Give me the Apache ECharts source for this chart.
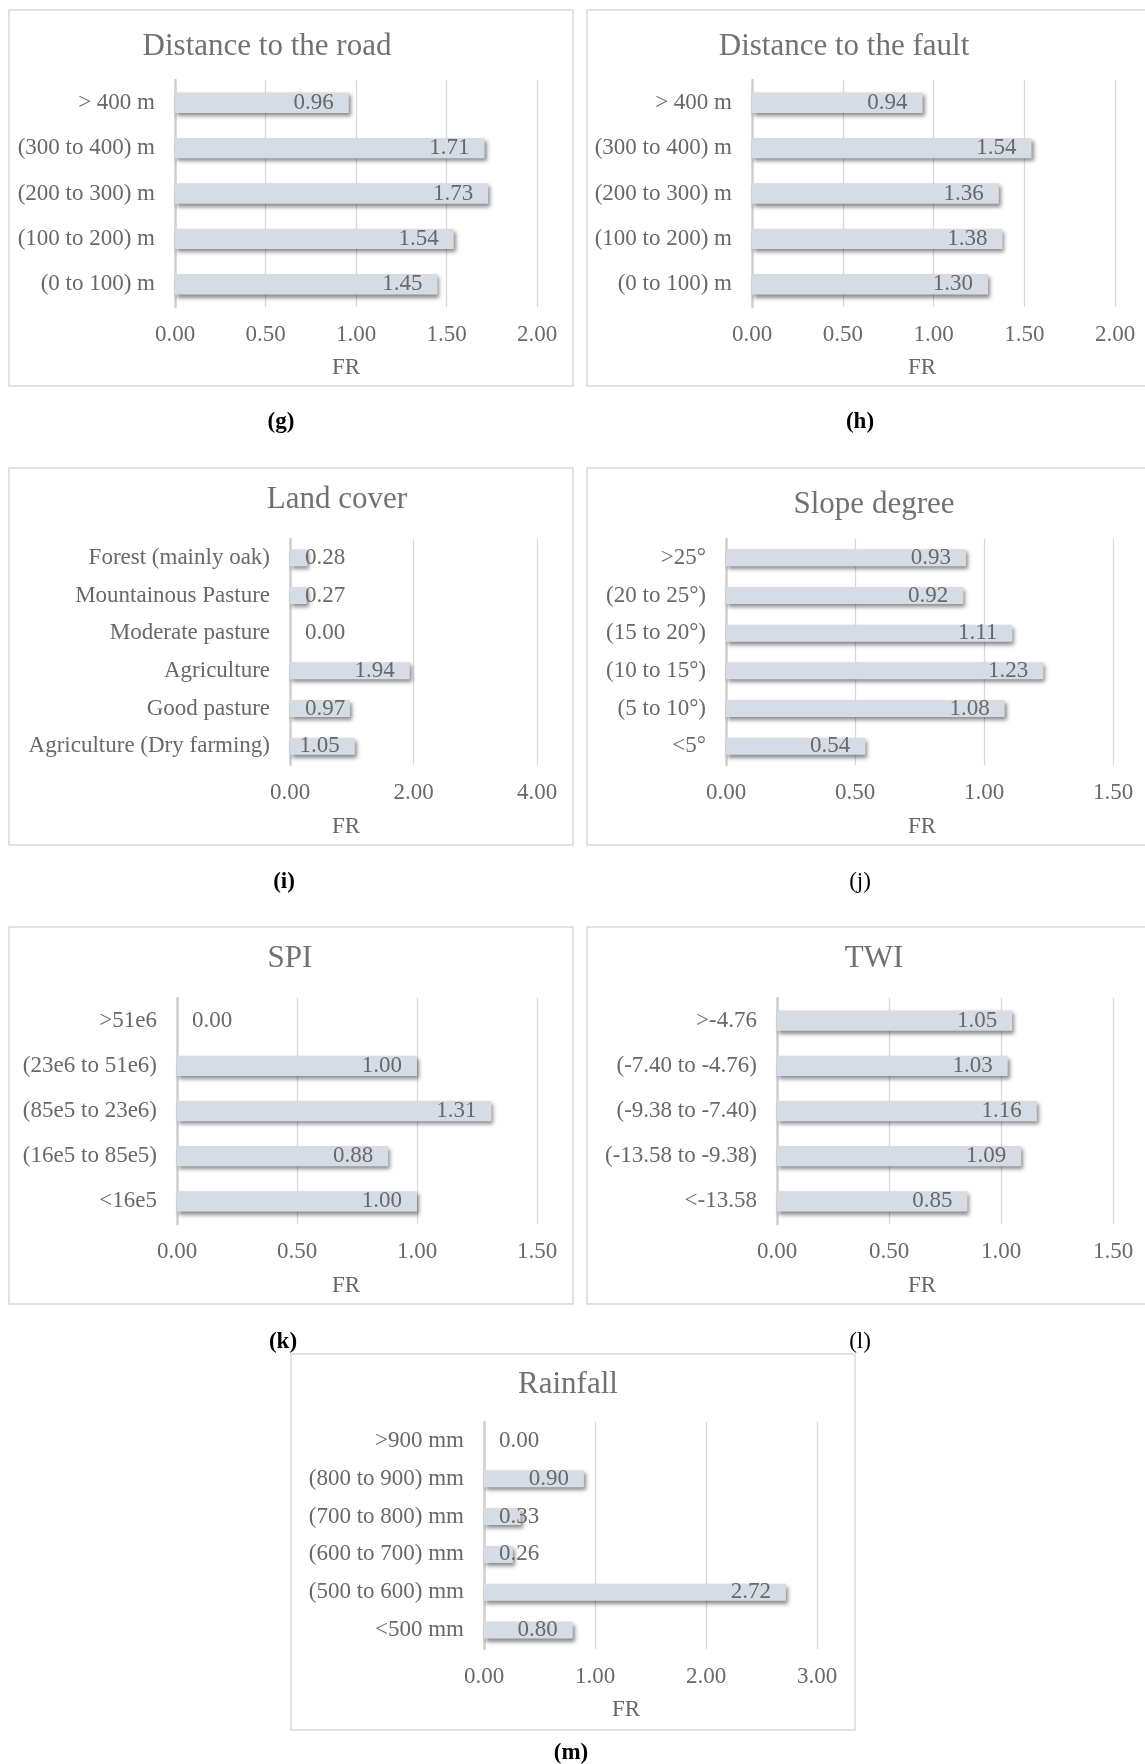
<!DOCTYPE html>
<html>
<head>
<meta charset="utf-8">
<script src="https://cdn.jsdelivr.net/npm/echarts@6/dist/echarts.min.js"></script>
<style>
html,body{margin:0;padding:0;background:#fff;}
#c{width:1145px;height:1764px;}
</style>
</head>
<body>
<div id="c"></div>
<script>
// ---- data ----
const roadCategories = ['> 400 m', '(300 to 400) m', '(200 to 300) m', '(100 to 200) m', '(0 to 100) m'];
const roadFR = [0.96, 1.71, 1.73, 1.54, 1.45];
const roadTicks = [0, 0.5, 1.0, 1.5, 2.0];

const faultCategories = ['> 400 m', '(300 to 400) m', '(200 to 300) m', '(100 to 200) m', '(0 to 100) m'];
const faultFR = [0.94, 1.54, 1.36, 1.38, 1.30];
const faultTicks = [0, 0.5, 1.0, 1.5, 2.0];

const landCategories = ['Forest (mainly oak)', 'Mountainous Pasture', 'Moderate pasture', 'Agriculture', 'Good pasture', 'Agriculture (Dry farming)'];
const landFR = [0.28, 0.27, 0.00, 1.94, 0.97, 1.05];
const landTicks = [0, 2.0, 4.0];

const slopeCategories = ['>25°', '(20 to 25°)', '(15 to 20°)', '(10 to 15°)', '(5 to 10°)', '<5°'];
const slopeFR = [0.93, 0.92, 1.11, 1.23, 1.08, 0.54];
const slopeTicks = [0, 0.5, 1.0, 1.5];

const spiCategories = ['>51e6', '(23e6 to 51e6)', '(85e5 to 23e6)', '(16e5 to 85e5)', '<16e5'];
const spiFR = [0.00, 1.00, 1.31, 0.88, 1.00];
const spiTicks = [0, 0.5, 1.0, 1.5];

const twiCategories = ['>-4.76', '(-7.40 to -4.76)', '(-9.38 to -7.40)', '(-13.58 to -9.38)', '<-13.58'];
const twiFR = [1.05, 1.03, 1.16, 1.09, 0.85];
const twiTicks = [0, 0.5, 1.0, 1.5];

const rainCategories = ['>900 mm', '(800 to 900) mm', '(700 to 800) mm', '(600 to 700) mm', '(500 to 600) mm', '<500 mm'];
const rainFR = [0.00, 0.90, 0.33, 0.26, 2.72, 0.80];
const rainTicks = [0, 1.0, 2.0, 3.0];

const axisName = 'FR';

// ---- layout ----
const panels = [
  {title:'Distance to the road', cats:roadCategories, vals:roadFR, ticks:roadTicks,
   grid:{left:175, top:80, width:362, height:227}, titlePos:[267,47], namePos:[346,368],
   letter:'(g)', letterPos:[281,422], bold:true, border:[9,10,564,376]},
  {title:'Distance to the fault', cats:faultCategories, vals:faultFR, ticks:faultTicks,
   grid:{left:752, top:80, width:363, height:227}, titlePos:[844,47], namePos:[922,368],
   letter:'(h)', letterPos:[860,422], bold:true, border:[587,10,570,376]},
  {title:'Land cover', cats:landCategories, vals:landFR, ticks:landTicks,
   grid:{left:290, top:539, width:247, height:226}, titlePos:[337,500], namePos:[346,827],
   letter:'(i)', letterPos:[284,882], bold:true, border:[9,468,564,377]},
  {title:'Slope degree', cats:slopeCategories, vals:slopeFR, ticks:slopeTicks,
   grid:{left:726, top:539, width:387, height:226}, titlePos:[874,505], namePos:[922,827],
   letter:'(j)', letterPos:[860,882], bold:false, border:[587,468,570,377]},
  {title:'SPI', cats:spiCategories, vals:spiFR, ticks:spiTicks,
   grid:{left:177, top:998, width:360, height:226}, titlePos:[290,959], namePos:[346,1286],
   letter:'(k)', letterPos:[283,1342], bold:true, border:[9,927,564,377]},
  {title:'TWI', cats:twiCategories, vals:twiFR, ticks:twiTicks,
   grid:{left:777, top:998, width:336, height:226}, titlePos:[874,959], namePos:[922,1286],
   letter:'(l)', letterPos:[860,1342], bold:false, border:[587,927,570,377]},
  {title:'Rainfall', cats:rainCategories, vals:rainFR, ticks:rainTicks,
   grid:{left:484, top:1422, width:333, height:227}, titlePos:[568,1385], namePos:[626,1710],
   letter:'(m)', letterPos:[571,1753], bold:true, border:[291,1354,564,376]}
];

const FONT = "'Liberation Serif', 'Times New Roman', serif";
const TXT = '#686868';

const grids = [], xAxes = [], yAxes = [], series = [], graphics = [];

panels.forEach((p, i) => {
  grids.push(Object.assign({containLabel:false}, p.grid));
  const t = p.ticks;
  xAxes.push({
    type:'value', gridIndex:i, min:t[0], max:t[t.length-1], interval:t[1]-t[0],
    axisLine:{show:false}, axisTick:{show:false},
    splitLine:{show:true, lineStyle:{color:'#d9d9d9', width:1.3}},
    axisLabel:{color:TXT, fontFamily:FONT, fontSize:23, margin:16, formatter:v => v.toFixed(2)}
  });
  yAxes.push({
    type:'category', gridIndex:i, data:p.cats, inverse:true,
    axisLine:{show:true, lineStyle:{color:'#cfcfcf', width:2.5}},
    axisTick:{show:false}, splitLine:{show:false},
    axisLabel:{color:TXT, fontFamily:FONT, fontSize:23, margin:20}
  });
  series.push({
    type:'bar', xAxisIndex:i, yAxisIndex:i, data:p.vals,
    barCategoryGap:'55%',
    itemStyle:{color:'#d6dce5', shadowColor:'rgba(0,0,0,0.45)', shadowBlur:4, shadowOffsetX:2, shadowOffsetY:3},
    label:{show:true, position:'insideRight', distance:15, color:TXT, fontFamily:FONT, fontSize:23,
           formatter:q => Number(q.value).toFixed(2)},
    labelLayout: function(q){
      const r = q.rect, lr = q.labelRect;
      if (r.width < lr.width + 22) {
        return {dx: (r.x + 15) - lr.x};
      }
      return {};
    },
    silent:true, animation:false
  });
  const b = p.border;
  graphics.push({type:'rect', shape:{x:b[0], y:b[1], width:b[2], height:b[3]},
    style:{fill:'none', stroke:'#d9d9d9', lineWidth:1.5}, silent:true, z:-10});
  graphics.push({type:'text', x:p.titlePos[0], y:p.titlePos[1],
    style:{text:p.title, fill:'#717171', font:'31px ' + FONT, textAlign:'center', textVerticalAlign:'middle'}});
  graphics.push({type:'text', x:p.namePos[0], y:p.namePos[1],
    style:{text:axisName, fill:TXT, font:'23px ' + FONT, textAlign:'center', textVerticalAlign:'middle'}});
  graphics.push({type:'text', x:p.letterPos[0], y:p.letterPos[1],
    style:{text:p.letter, fill:'#000', font:(p.bold ? 'bold ' : '') + '23px ' + FONT, textAlign:'center', textVerticalAlign:'middle'}});
});

const chart = echarts.init(document.getElementById('c'), null, {renderer:'canvas'});
chart.setOption({
  backgroundColor:'#ffffff',
  animation:false,
  grid:grids, xAxis:xAxes, yAxis:yAxes, series:series,
  graphic:graphics
});
</script>
</body>
</html>
